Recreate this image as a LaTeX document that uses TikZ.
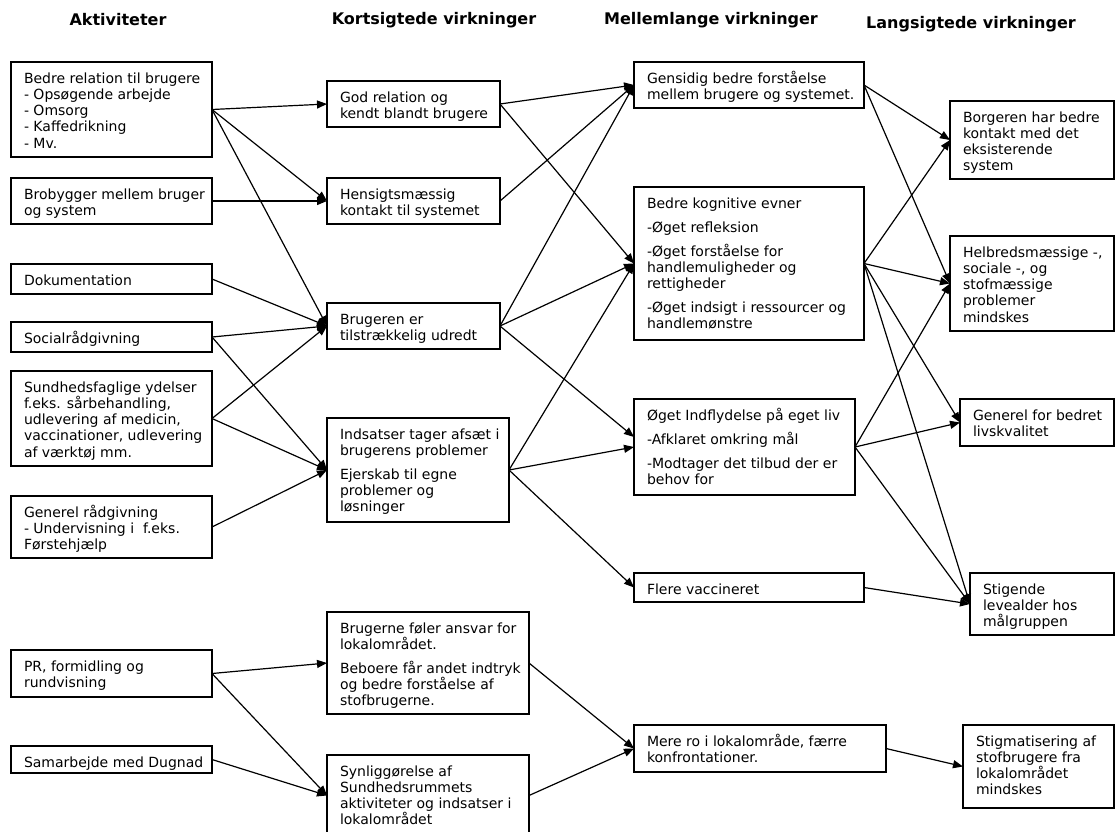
\documentclass[tikz,border=0pt]{standalone}
\usepackage{fontspec}
\setmainfont{DejaVu Sans}
\usetikzlibrary{arrows.meta,fit}
\tikzset{
  box/.style={draw, line width=1.1pt, inner sep=0pt, outer sep=0pt},
  txt/.style={inner sep=0pt, outer sep=0pt, anchor=base west, font=\fontsize{14}{16.3}\selectfont},
  hdr/.style={font=\fontsize{16}{19}\selectfont\bfseries, inner sep=0pt},
  arr/.style={line width=1.2pt, -{Triangle[length=10pt,width=8pt]}},
}
\newcommand\mybox[6]{%
  \node[box, fit={(#2,#3)(#4,#5)}] (#1) {};
  \node[txt] (#1t) at ([shift={(13pt,-21pt)}]#1.north west) {\parbox[t]{260pt}{#6}};}
\begin{document}
\begin{tikzpicture}[x=1pt,y=-1pt]
\useasboundingbox (0,0) rectangle (1116,831);
% headers
\node[hdr] (h1) at (118,20) {Aktiviteter};
\node[hdr] (h2) at (434,20) {Kortsigtede virkninger};
\node[hdr] (h3) at (711,20) {Mellemlange virkninger};
\node[hdr] (h4) at (971,24) {Langsigtede virkninger};
% column 1
\mybox{a1}{11}{62}{212}{157}{Bedre relation til brugere\\- Opsøgende arbejde\\- Omsorg\\- Kaffedrikning\\- Mv.}
\mybox{a2}{11}{178}{212}{224}{Brobygger mellem bruger\\og system}
\mybox{a3}{11}{264}{212}{294}{Dokumentation}
\mybox{a4}{11}{322}{212}{352}{Socialrådgivning}
\mybox{a5}{11}{371}{212}{466}{Sundhedsfaglige ydelser\\f.eks. sårbehandling,\\udlevering af medicin,\\vaccinationer, udlevering\\af værktøj mm.}
\mybox{a6}{11}{496}{212}{558}{Generel rådgivning\\- Undervisning i\ \ f.eks.\\Førstehjælp}
\mybox{a7}{11}{650}{212}{697}{PR, formidling og\\rundvisning}
\mybox{a8}{11}{746}{212}{773}{Samarbejde med Dugnad}
% column 2
\mybox{k1}{327}{81}{500}{127}{God relation og\\kendt blandt brugere}
\mybox{k2}{327}{178}{500}{224}{Hensigtsmæssig\\kontakt til systemet}
\mybox{k3}{327}{303}{500}{349}{Brugeren er\\tilstrækkelig udredt}
\mybox{k4}{327}{418}{509}{522}{Indsatser tager afsæt i\\brugerens problemer\\[7.7pt]Ejerskab til egne\\problemer og\\løsninger}
\mybox{k5}{327}{612}{529}{714}{Brugerne føler ansvar for\\lokalområdet.\\[7.7pt]Beboere får andet indtryk\\og bedre forståelse af\\stofbrugerne.}
\mybox{k6}{327}{755}{529}{836}{Synliggørelse af\\Sundhedsrummets\\aktiviteter og indsatser i\\lokalområdet}
% column 3
\mybox{m1}{634}{62}{864}{108}{Gensidig bedre forståelse\\mellem brugere og systemet.}
\mybox{m2}{634}{187}{864}{340}{Bedre kognitive evner\\[7.7pt]-Øget refleksion\\[7.7pt]-Øget forståelse for\\handlemuligheder og\\rettigheder\\[7.7pt]-Øget indsigt i ressourcer og\\handlemønstre}
\mybox{m3}{634}{399}{855}{495}{Øget Indflydelse på eget liv\\[7.7pt]-Afklaret omkring mål\\[7.7pt]-Modtager det tilbud der er\\behov for}
\mybox{m4}{634}{573}{864}{602}{Flere vaccineret}
\mybox{m5}{634}{725}{886}{772}{Mere ro i lokalområde, færre\\konfrontationer.}
% column 4
\mybox{l1}{950}{101}{1114}{179}{Borgeren har bedre\\kontakt med det\\eksisterende\\system}
\mybox{l2}{950}{236}{1114}{331}{Helbredsmæssige -,\\sociale -, og\\stofmæssige\\problemer\\mindskes}
\mybox{l3}{960}{399}{1114}{446}{Generel for bedret\\livskvalitet}
\mybox{l4}{970}{573}{1114}{635}{Stigende\\levealder hos\\målgruppen}
\mybox{l5}{963}{725}{1114}{808}{Stigmatisering af\\stofbrugere fra\\lokalområdet\\mindskes}
% arrows col1 -> col2
\draw[arr] (a1.east) -- (k1.west);
\draw[arr] (a1.east) -- (k2.west);
\draw[arr] (a1.east) -- (k3.west);
\draw[arr] (a2.east) -- (k2.west);
\draw[arr] (a3.east) -- (k3.west);
\draw[arr] (a4.east) -- (k3.west);
\draw[arr] (a4.east) -- (k4.west);
\draw[arr] (a5.east) -- (k3.west);
\draw[arr] (a5.east) -- (k4.west);
\draw[arr] (a6.east) -- (k4.west);
\draw[arr] (a7.east) -- (k5.west);
\draw[arr] (a7.east) -- (k6.west);
\draw[arr] (a8.east) -- (k6.west);
% col2 -> col3
\draw[arr] (k1.east) -- (m1.west);
\draw[arr] (k1.east) -- (m2.west);
\draw[arr] (k2.east) -- (m1.west);
\draw[arr] (k3.east) -- (m1.west);
\draw[arr] (k3.east) -- (m2.west);
\draw[arr] (k3.east) -- ([yshift=10pt]m3.west);
\draw[arr] (k4.east) -- (m2.west);
\draw[arr] (k4.east) -- (m3.west);
\draw[arr] (k4.east) -- (m4.west);
\draw[arr] (k5.east) -- (m5.west);
\draw[arr] (k6.east) -- (m5.west);
% col3 -> col4
\draw[arr] (m1.east) -- (l1.west);
\draw[arr] (m1.east) -- (l2.west);
\draw[arr] (m2.east) -- (l1.west);
\draw[arr] (m2.east) -- (l2.west);
\draw[arr] (m2.east) -- (l3.west);
\draw[arr] (m2.east) -- (l4.west);
\draw[arr] (m3.east) -- (l2.west);
\draw[arr] (m3.east) -- (l3.west);
\draw[arr] (m3.east) -- (l4.west);
\draw[arr] (m4.east) -- (l4.west);
\draw[arr] (m5.east) -- (l5.west);
\end{tikzpicture}
\end{document}
